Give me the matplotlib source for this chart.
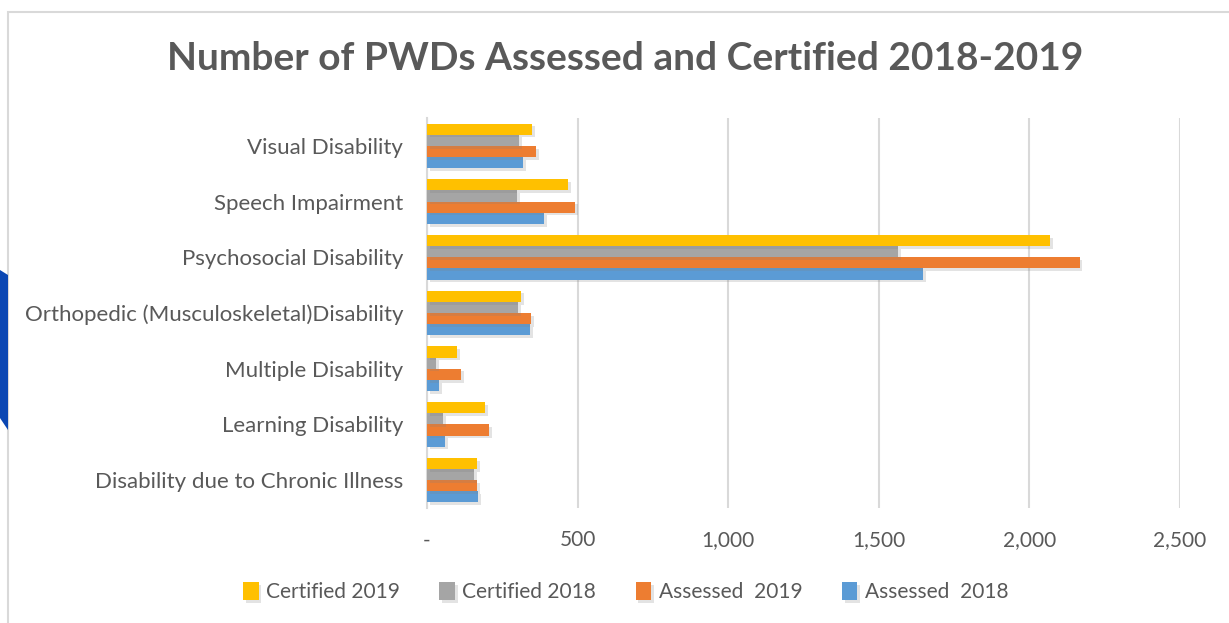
import matplotlib
matplotlib.use("Agg")
import matplotlib.pyplot as plt
import matplotlib.patheffects as pe
from matplotlib.patches import Rectangle, Polygon
from matplotlib.ticker import FuncFormatter
import numpy as np

categories = ["Disability due to Chronic Illness", "Learning Disability", "Multiple Disability",
              "Orthopedic (Musculoskeletal)Disability", "Psychosocial Disability",
              "Speech Impairment", "Visual Disability"]
assessed_2018 = [169, 59, 40, 342, 1647, 389, 320]
assessed_2019 = [166, 206, 113, 345, 2167, 492, 362]
certified_2018 = [156, 53, 30, 302, 1564, 300, 306]
certified_2019 = [166, 192, 99, 312, 2069, 468, 348]

series = [
    ("Assessed  2018", assessed_2018, "#5B9BD5"),
    ("Assessed  2019", assessed_2019, "#ED7D31"),
    ("Certified 2018", certified_2018, "#A5A5A5"),
    ("Certified 2019", certified_2019, "#FFC000"),
]

plt.rcParams['font.family'] = ['Lato', 'DejaVu Sans']
txt = "#595959"

fig = plt.figure(figsize=(12.29, 6.23), dpi=100)
ax = fig.add_axes([0.3474, 0.1846, 0.6127, 0.626])

# chart frame and the blue strip on the left edge
fig.patches.append(Rectangle((8 / 1229, -0.1), 1.2, 1 - 12 / 623 + 0.1, transform=fig.transFigure,
                             facecolor="white", edgecolor="#D9D9D9", lw=1.5, zorder=-5))
fig.patches.append(Polygon([(0, 1 - 270 / 623), (8 / 1229, 1 - 275 / 623), (8 / 1229, 1 - 430 / 623),
                            (0, 1 - 418 / 623)], closed=True, transform=fig.transFigure,
                           facecolor="#0B47B3", edgecolor="none"))

y = np.arange(len(categories))
h = 0.2
shadow = [pe.SimplePatchShadow(offset=(2, -2), shadow_rgbFace="#808080", alpha=0.22), pe.Normal()]
for i, (name, vals, col) in enumerate(series):
    bars = ax.barh(y + (i - 1.5) * h, vals, h, color=col, label=name, zorder=3)
    for b in bars:
        b.set_path_effects(shadow)

ax.set_xlim(0, 2500)
ax.set_ylim(-0.5, len(categories) - 0.5)
ax.set_xticks([0, 500, 1000, 1500, 2000, 2500])
ax.xaxis.set_major_formatter(FuncFormatter(lambda v, p: "-" if v == 0 else f"{int(v):,}"))
ax.set_yticks(y)
ax.set_yticklabels(categories)
ax.grid(axis="x", color="#D9D9D9", lw=1.5, zorder=0)
for s in ["top", "right", "bottom"]:
    ax.spines[s].set_visible(False)
ax.spines["left"].set_color("#D9D9D9")
ax.spines["left"].set_linewidth(1.5)
ax.tick_params(length=0, labelsize=15, colors=txt)
ax.tick_params(axis="y", pad=17, labelsize=16)
ax.tick_params(axis="x", pad=16)

fig.text(0.509, 1 - 58 / 623, "Number of PWDs Assessed and Certified 2018-2019", ha="center", va="center",
         fontsize=28, fontweight="bold", color=txt)

handles, labels = ax.get_legend_handles_labels()
fig.legend(handles[::-1], labels[::-1], loc="center", bbox_to_anchor=(0.509, 1 - 592 / 623), ncol=4,
           frameon=False, fontsize=15, labelcolor=txt, handlelength=0.75, handleheight=0.95,
           handletextpad=0.35, columnspacing=1.9)

fig.savefig("out.png", dpi=100)
